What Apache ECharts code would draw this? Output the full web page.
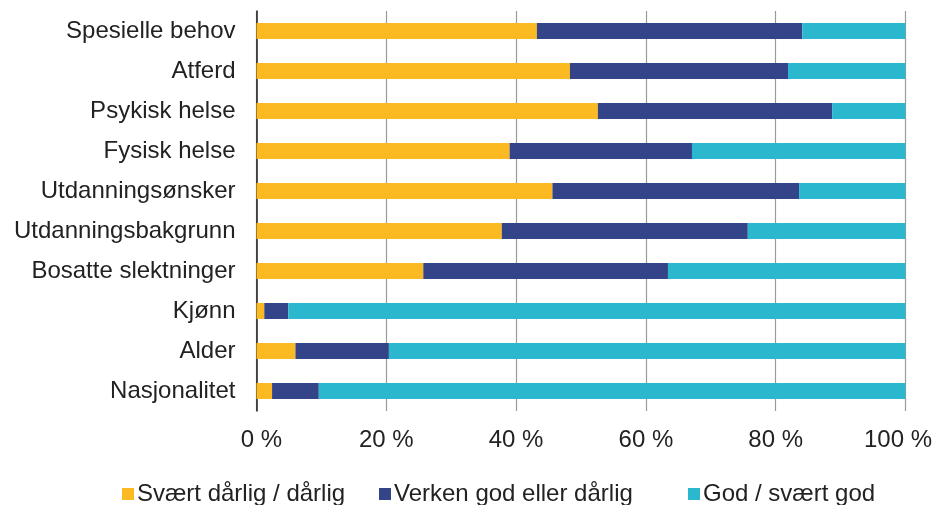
<!DOCTYPE html>
<html>
<head>
<meta charset="utf-8">
<script src="https://cdn.jsdelivr.net/npm/echarts@6/dist/echarts.min.js"></script>
<style>
	html, body { margin: 0; padding: 0; background: #fff; }
	#chart { width: 935px; height: 505px; }
</style>
</head>
<body>
<div id="chart"></div>
<script>
	// kategorier, nederst først (yAxis category starter nederst)
	const categories = ['Nasjonalitet', 'Alder', 'Kjønn', 'Bosatte slektninger', 'Utdanningsbakgrunn',
		'Utdanningsønsker', 'Fysisk helse', 'Psykisk helse', 'Atferd', 'Spesielle behov'];
	const seriesNames = ['Svært dårlig / dårlig', 'Verken god eller dårlig', 'God / svært god'];
	const darlig = [2.4, 6.0, 1.2, 25.7, 37.8, 45.6, 39.0, 52.6, 48.3, 43.2];
	const verken = [7.2, 14.4, 3.7, 37.7, 37.9, 38.0, 28.1, 36.1, 33.6, 40.9];
	const god = [90.4, 79.6, 95.1, 36.6, 24.3, 16.4, 32.9, 11.3, 18.1, 15.9];
	const xTicks = [0, 20, 40, 60, 80, 100];
	const colors = ['#FBBA21', '#334489', '#2BB8CF'];

	const chart = echarts.init(document.getElementById('chart'));
	const font = 'Liberation Sans, Arial, sans-serif';
	const legendLeft = [117, 374, 683];

	let option = {
		animation: false,
		grid: {
			left: 256.5,
			right: 29.5,
			top: 11,
			bottom: 94,
			containLabel: false,
			outerBoundsMode: 'none',
		},
		// ei legend per serie, så mellomrommene blir som i originalen
		legend: seriesNames.map((n, i) => ({
			left: legendLeft[i],
			top: 477,
			icon: 'rect',
			itemWidth: 12,
			itemHeight: 12,
			itemGap: 0,
			textStyle: {
				fontFamily: font,
				fontSize: 24,
				color: '#222',
				padding: [0, 0, 0, -2],
			},
			data: [n],
		})),
		xAxis: {
			type: 'value',
			min: xTicks[0],
			max: xTicks[xTicks.length - 1],
			interval: 20,
			axisLine: { show: false },
			axisTick: { show: false },
			splitLine: {
				show: true,
				lineStyle: { color: '#9a9a9a', width: 1.2 },
			},
			axisLabel: {
				fontFamily: font,
				fontSize: 24,
				color: '#222',
				margin: 17,
				// første og siste etikett er skjøvet litt innover, som i originalen
				formatter: v => {
					if (v === xTicks[0]) return '{first|' + v + ' %}';
					if (v === xTicks[xTicks.length - 1]) return '{last|' + v + ' %}';
					return v + ' %';
				},
				rich: {
					first: { fontFamily: font, fontSize: 24, color: '#222', padding: [0, 0, 0, 10] },
					last: { fontFamily: font, fontSize: 24, color: '#222', padding: [0, 15, 0, 0] },
				},
			},
		},
		yAxis: {
			type: 'category',
			data: categories,
			axisLine: { show: true, lineStyle: { color: '#222', width: 1.5 } },
			axisTick: { show: false },
			axisLabel: {
				fontFamily: font,
				fontSize: 24,
				color: '#222',
				margin: 21,
			},
		},
		series: [darlig, verken, god].map((d, i) => ({
			name: seriesNames[i],
			type: 'bar',
			stack: 'total',
			barWidth: '40%',
			itemStyle: { color: colors[i] },
			data: d,
		})),
	};
	chart.setOption(option);
</script>
</body>
</html>
